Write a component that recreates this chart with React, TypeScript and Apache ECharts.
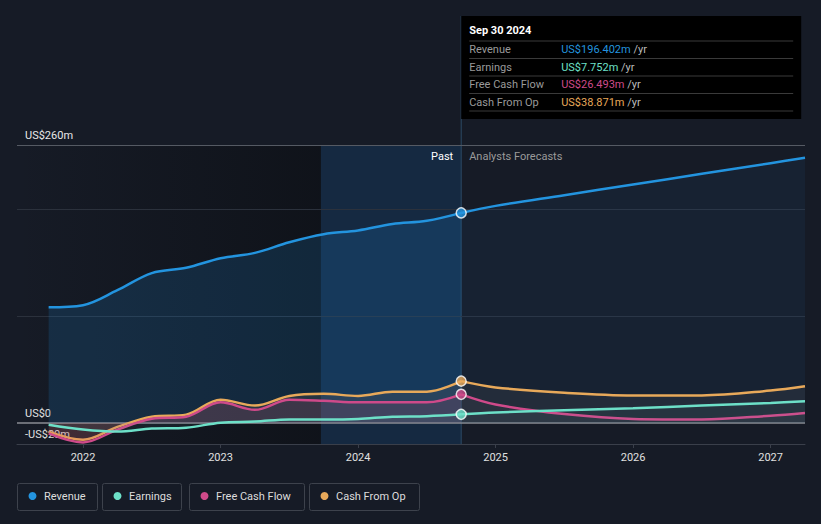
import React, { useEffect, useRef } from "react";
import * as echarts from "echarts";

const pastX = [2021.75, 2022.0, 2022.25, 2022.5, 2022.75, 2023.0, 2023.25, 2023.5, 2023.75, 2024.0, 2024.25, 2024.5, 2024.75];
const revenuePast = [108, 110, 124, 140, 145, 154, 159, 169, 176.5, 180, 186, 189, 196.402];
const earningsPast = [-2, -6.5, -8.4, -5.6, -4.7, 0, 1, 3, 3, 3.5, 5.6, 6, 7.752];
const fcfPast = [-10, -18.5, -6.5, 3.7, 5.6, 19, 12, 21.5, 20.5, 19, 19, 19, 26.493];
const cfoPast = [-8.4, -16, -4, 5.6, 7.5, 21.5, 16, 25, 27, 25, 29, 29, 38.871];

const foreX = [2024.75, 2025.0, 2025.5, 2026.0, 2026.5, 2027.0, 2027.25];
const revenueFore = [196.402, 203, 213, 223, 233, 243, 248];
const earningsFore = [7.752, 9.5, 11.5, 13.5, 16, 18.5, 20];
const fcfFore = [26.493, 17, 8, 3.5, 3, 6.5, 9];
const cfoFore = [38.871, 33, 28, 25.5, 25.5, 30, 34];

const yearTicks = [2022, 2023, 2024, 2025, 2026, 2027];
const yLabelValues = [-20, 0, 260];
const gridLines = [100, 200, 260];

const seriesNames = ["Revenue", "Earnings", "Free Cash Flow", "Cash From Op"];
const seriesColors = ["#2394df", "#6de0c8", "#cf4a8a", "#e8a95a"];
const tooltipValues = ["US$196.402m", "US$7.752m", "US$26.493m", "US$38.871m"];

const X_MIN = 2021.52;
const X_MAX = 2027.25;
const PAST_END = 2024.75;
const BAND_START = 2023.73;

const zip = (xs: number[], ys: number[]) => xs.map((x, i) => [x, ys[i]]);

export default function App() {
  const ref = useRef<HTMLDivElement>(null);
  useEffect(() => {
    if (!ref.current) return;
    const chart = echarts.init(ref.current, null, { renderer: "svg" });
    const font = "Roboto, 'Noto Sans', sans-serif";
    const line = (name: string, data: number[][], color: string, area: string, z: number, extra: any = {}) => ({
      type: "line",
      name,
      data,
      smooth: 0.35,
      symbol: "none",
      z,
      lineStyle: { color, width: 2.5 },
      itemStyle: { color },
      areaStyle: { color: area, origin: 0 },
      ...extra,
    });
    const endPoint = (color: string, v: number) => ({
      type: "scatter",
      data: [[PAST_END, v]],
      symbolSize: 10,
      z: 20,
      itemStyle: { color, borderColor: "#ffffff", borderWidth: 1.5 },
    });
    const option: any = {
      animation: false,
      backgroundColor: "#161b26",
      textStyle: { fontFamily: font },
      grid: { left: 17, right: 16, top: 145, bottom: 80 },
      xAxis: {
        type: "value",
        min: X_MIN,
        max: X_MAX,
        splitLine: { show: false },
        axisLine: { show: true, onZero: false, lineStyle: { color: "#3a3f4a", width: 1 } },
        axisTick: { show: true, customValues: yearTicks, length: 4, lineStyle: { color: "#3a3f4a" } },
        axisLabel: {
          customValues: yearTicks,
          color: "#e0e0e0",
          fontSize: 11,
          margin: 8,
          formatter: (v: number) => String(Math.round(v)),
        },
      },
      yAxis: {
        type: "value",
        min: -20,
        max: 260,
        splitLine: { show: false },
        axisLine: { show: false },
        axisTick: { show: false },
        axisLabel: {
          customValues: yLabelValues,
          inside: true,
          margin: 8,
          color: "#e8e8e8",
          fontSize: 11,
          verticalAlign: "bottom",
          padding: [0, 0, 4, 0],
          formatter: (v: number) => (v === 0 ? "US$0" : v < 0 ? `-US$${-v}m` : `US$${v}m`),
        },
      },
      series: [
        {
          type: "line",
          data: [],
          markArea: {
            silent: true,
            data: [
              [
                {
                  xAxis: X_MIN,
                  itemStyle: {
                    color: new echarts.graphic.LinearGradient(0, 0, 1, 0, [
                      { offset: 0, color: "rgba(10,12,16,0)" },
                      { offset: 1, color: "rgba(10,12,16,0.55)" },
                    ]),
                  },
                },
                { xAxis: BAND_START },
              ],
              [{ xAxis: BAND_START, itemStyle: { color: "rgba(20,65,110,0.38)" } }, { xAxis: PAST_END }],
            ],
          },
          markLine: {
            silent: true,
            symbol: "none",
            label: { show: false },
            data: [
              ...gridLines.map((v) => ({ yAxis: v, lineStyle: { color: v === 260 ? "#555a63" : "#2b313c", width: 1, type: "solid" } })),
              { yAxis: 0, lineStyle: { color: "#8a8d93", width: 1.5, type: "solid" } },
            ],
          },
          z: 1,
        },
        line("Revenue", zip(pastX, revenuePast), seriesColors[0], "rgba(33,125,200,0.28)", 5),
        line("Revenue", zip(foreX, revenueFore), seriesColors[0], "rgba(33,125,200,0.12)", 5),
        line("Cash From Op", zip(pastX, cfoPast), seriesColors[3], "rgba(200,150,110,0.16)", 6),
        line("Cash From Op", zip(foreX, cfoFore), seriesColors[3], "rgba(120,120,120,0.18)", 6),
        line("Free Cash Flow", zip(pastX, fcfPast), seriesColors[2], "rgba(200,70,110,0.2)", 7),
        line("Free Cash Flow", zip(foreX, fcfFore), seriesColors[2], "rgba(120,110,120,0.12)", 7),
        line("Earnings", zip(pastX, earningsPast), seriesColors[1], "rgba(109,224,200,0.08)", 8),
        line("Earnings", zip(foreX, earningsFore), seriesColors[1], "rgba(109,224,200,0.06)", 8),
        endPoint(seriesColors[0], revenuePast[revenuePast.length - 1]),
        endPoint(seriesColors[3], cfoPast[cfoPast.length - 1]),
        endPoint(seriesColors[2], fcfPast[fcfPast.length - 1]),
        endPoint(seriesColors[1], earningsPast[earningsPast.length - 1]),
      ],
    };
    chart.setOption(option);

    const px = chart.convertToPixel({ xAxisIndex: 0 }, PAST_END) as number;
    const yTop = chart.convertToPixel({ yAxisIndex: 0 }, 260) as number;
    const yBottom = chart.convertToPixel({ yAxisIndex: 0 }, -20) as number;
    const boxX = px;
    const boxY = 16;
    const rows = seriesNames.map((n, i) => i);
    const legendItems = [
      { x: 17, w: 80 },
      { x: 102, w: 79 },
      { x: 189, w: 115 },
      { x: 309, w: 110 },
    ];
    const graphic: any[] = [
      { type: "line", shape: { x1: px, y1: boxY, x2: px, y2: yBottom }, style: { stroke: "#2c4a66", lineWidth: 1 }, z: 3, silent: true },
      { type: "rect", shape: { x: boxX, y: boxY, width: 340, height: 103 }, style: { fill: "#000000" }, z: 30 },
      {
        type: "text",
        x: boxX + 8,
        y: boxY + 14,
        style: { text: "Sep 30 2024", fill: "#ffffff", fontSize: 11, fontWeight: "bold", fontFamily: font, verticalAlign: "middle" },
        z: 31,
      },
      ...[0, 1, 2, 3, 4].map((i) => ({
        type: "line",
        shape: { x1: boxX + 8, y1: boxY + 25 + i * 17.5, x2: boxX + 332, y2: boxY + 25 + i * 17.5 },
        style: { stroke: "#3a3a3a", lineWidth: 1 },
        z: 31,
      })),
      ...rows.flatMap((i) => [
        {
          type: "text",
          x: boxX + 8,
          y: boxY + 33.5 + i * 17.5,
          style: { text: seriesNames[i], fill: "#9a9a9a", fontSize: 11, fontFamily: font, verticalAlign: "middle" },
          z: 31,
        },
        {
          type: "text",
          x: boxX + 100,
          y: boxY + 33.5 + i * 17.5,
          style: {
            text: `{v|${tooltipValues[i]}} {u|/yr}`,
            fontSize: 11,
            fontFamily: font,
            verticalAlign: "middle",
            rich: {
              v: { fill: seriesColors[i], fontSize: 11, fontFamily: font },
              u: { fill: "#bbbbbb", fontSize: 11, fontFamily: font },
            },
          },
          z: 31,
        },
      ]),
      {
        type: "text",
        x: px - 8,
        y: yTop + 11,
        style: { text: "Past", fill: "#ffffff", fontSize: 11, fontFamily: font, align: "right", verticalAlign: "middle" },
        z: 31,
      },
      {
        type: "text",
        x: px + 8,
        y: yTop + 11,
        style: { text: "Analysts Forecasts", fill: "#9a9a9a", fontSize: 11, fontFamily: font, align: "left", verticalAlign: "middle" },
        z: 31,
      },
      ...legendItems.flatMap((it, i) => [
        {
          type: "rect",
          shape: { x: it.x + 0.5, y: 483.5, width: it.w, height: 27, r: 2 },
          style: { fill: "transparent", stroke: "#3d424c", lineWidth: 1 },
          z: 31,
        },
        { type: "circle", shape: { cx: it.x + 15.5, cy: 496, r: 4 }, style: { fill: seriesColors[i] }, z: 32 },
        {
          type: "text",
          x: it.x + 27,
          y: 496.5,
          style: { text: seriesNames[i], fill: "#dddddd", fontSize: 11, fontFamily: font, verticalAlign: "middle" },
          z: 32,
        },
      ]),
    ];
    chart.setOption({ graphic });
    return () => chart.dispose();
  }, []);
  return <div ref={ref} style={{ position: "absolute", left: 0, top: 0, width: 821, height: 524 }} />;
}
